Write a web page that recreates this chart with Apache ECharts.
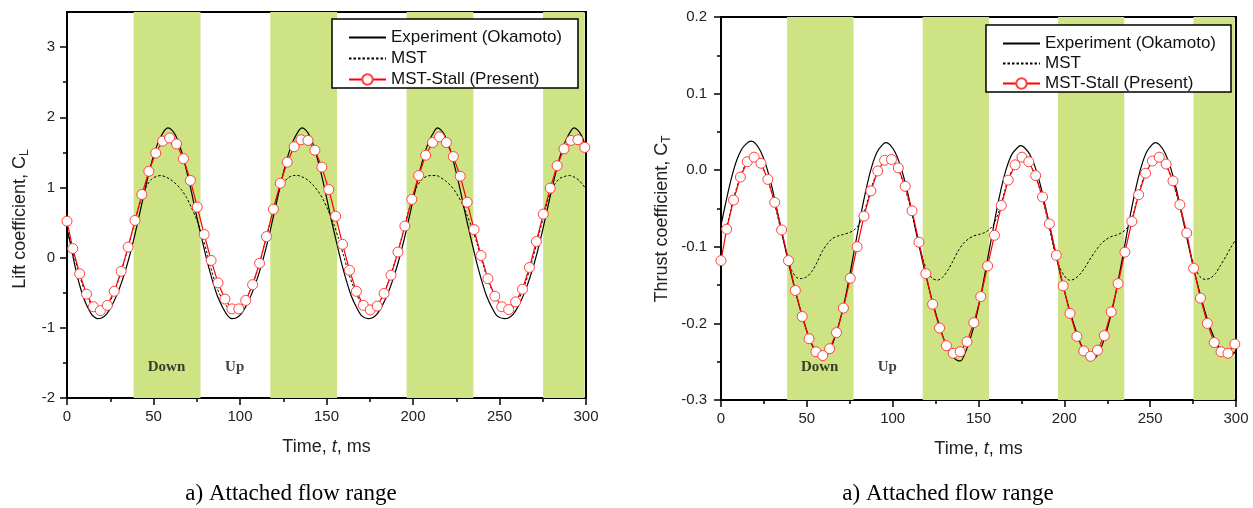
<!DOCTYPE html>
<html lang="en">
<head>
<meta charset="UTF-8">
<title>Lift and thrust coefficient</title>
<script src="https://cdn.jsdelivr.net/npm/echarts@6/dist/echarts.min.js"></script>
<style>
    html, body { margin: 0; padding: 0; background: #fff; }
    #chart_wrap { width: 1253px; height: 508px; }
</style>
</head>
<body>
<div id="chart_wrap"></div>
<script>
// ---- data ----
var seriesNames = ["Experiment (Okamoto)", "MST", "MST-Stall (Present)"];

// down-stroke phases (green bands), ms
var bandStart = [38.5, 117.5, 196.3, 275.2];
var bandEnd = [77.2, 156.1, 234.9, 299.2];

// axis ticks
var timeTicks = [0, 50, 100, 150, 200, 250, 300];
var liftTicks = [-2, -1, 0, 1, 2, 3];
var liftMinorTicks = [-1.5, -0.5, 0.5, 1.5, 2.5];
var thrustTicks = [-0.3, -0.2, -0.1, 0.0, 0.1, 0.2];

// MST-Stall markers (same time stations in both panels)
var tPresent = [0, 3.3, 7.3, 11.3, 15.3, 19.3, 23.3, 27.3, 31.3, 35.3, 39.3, 43.3, 47.3, 51.3, 55.3, 59.3,
    63.3, 67.3, 71.3, 75.3, 79.3, 83.3, 87.3, 91.3, 95.3, 99.3, 103.3, 107.3, 111.3, 115.3, 119.3, 123.3,
    127.3, 131.3, 135.3, 139.3, 143.3, 147.3, 151.3, 155.3, 159.3, 163.3, 167.3, 171.3, 175.3, 179.3,
    183.3, 187.3, 191.3, 195.3, 199.3, 203.3, 207.3, 211.3, 215.3, 219.3, 223.3, 227.3, 231.3, 235.3,
    239.3, 243.3, 247.3, 251.3, 255.3, 259.3, 263.3, 267.3, 271.3, 275.3, 279.3, 283.3, 287.3, 291.3,
    295.3, 299.3];
var liftPresent = [0.52, 0.13, -0.23, -0.52, -0.70, -0.755, -0.68, -0.48, -0.195, 0.15,
    0.53, 0.90, 1.23, 1.49, 1.66, 1.705, 1.62, 1.41, 1.10, 0.72,
    0.33, -0.04, -0.36, -0.59, -0.73, -0.73, -0.61, -0.385, -0.08, 0.30,
    0.69, 1.06, 1.36, 1.58, 1.68, 1.67, 1.53, 1.29, 0.97, 0.59,
    0.19, -0.18, -0.48, -0.68, -0.745, -0.69, -0.51, -0.25, 0.08, 0.45,
    0.83, 1.17, 1.46, 1.64, 1.72, 1.64, 1.44, 1.16, 0.79, 0.40,
    0.03, -0.30, -0.55, -0.70, -0.74, -0.63, -0.45, -0.14, 0.23, 0.62,
    0.99, 1.31, 1.55, 1.67, 1.68, 1.57];
var thrustPresent = [-0.118, -0.077, -0.039, -0.009, 0.011, 0.017, 0.009, -0.012, -0.042, -0.078,
    -0.118, -0.157, -0.191, -0.220, -0.237, -0.242, -0.233, -0.212, -0.180, -0.141,
    -0.100, -0.060, -0.027, -0.001, 0.013, 0.014, 0.003, -0.021, -0.053, -0.094,
    -0.135, -0.175, -0.206, -0.229, -0.239, -0.237, -0.224, -0.199, -0.165, -0.125,
    -0.085, -0.046, -0.013, 0.007, 0.017, 0.011, -0.007, -0.035, -0.070, -0.111,
    -0.151, -0.187, -0.217, -0.236, -0.243, -0.235, -0.216, -0.185, -0.148, -0.107,
    -0.067, -0.032, -0.004, 0.012, 0.017, 0.008, -0.014, -0.045, -0.082, -0.128,
    -0.167, -0.200, -0.225, -0.237, -0.239, -0.227];

// Experiment, lift
var tLiftExp = [0, 2, 4, 6, 8, 10, 12, 14, 16, 17.7, 20, 23, 26, 29, 32, 35, 38, 41, 44, 47,
    50, 53, 56, 58.4, 60.5, 63, 66, 69, 72, 75, 78, 81, 84, 87, 90, 93, 95.4,
    97.7, 100.7, 103.7, 106.7, 109.7, 112.7, 115.7, 118.7, 121.7, 124.7, 127.7, 130.7, 133.7, 135.8,
    137.9, 140.4, 143.4, 146.4, 149.4, 152.4, 155.4, 158.4, 161.4, 164.4, 167.4, 170.4, 174,
    176.3, 179.3, 182.3, 185.3, 188.3, 191.3, 194.3, 197.3, 200.3, 203.3, 206.3, 209.3, 212.3, 214,
    216.1, 218.6, 221.6, 224.6, 227.6, 230.6, 233.6, 236.6, 239.6, 242.6, 245.6, 248.6, 252.8,
    255.1, 258.1, 261.1, 264.1, 267.1, 270.1, 273.1, 276.1, 279.1, 282.1, 285.1, 288.1, 291.1, 293,
    295.1, 297.6, 300];
var liftExp = [0.40, 0.20, -0.05, -0.27, -0.45, -0.60, -0.71, -0.80, -0.85, -0.87, -0.86, -0.80, -0.68, -0.52, -0.32, -0.08, 0.20, 0.52, 0.85, 1.17,
    1.45, 1.66, 1.80, 1.85, 1.82, 1.73, 1.53, 1.25, 0.93, 0.58, 0.26, -0.05, -0.32, -0.55, -0.71, -0.83, -0.87,
    -0.86, -0.80, -0.68, -0.52, -0.32, -0.08, 0.20, 0.52, 0.85, 1.17, 1.45, 1.66, 1.80, 1.85,
    1.82, 1.73, 1.53, 1.25, 0.93, 0.58, 0.26, -0.05, -0.32, -0.55, -0.71, -0.83, -0.87,
    -0.86, -0.80, -0.68, -0.52, -0.32, -0.08, 0.20, 0.52, 0.85, 1.17, 1.45, 1.66, 1.80, 1.85,
    1.82, 1.73, 1.53, 1.25, 0.93, 0.58, 0.26, -0.05, -0.32, -0.55, -0.71, -0.83, -0.87,
    -0.86, -0.80, -0.68, -0.52, -0.32, -0.08, 0.20, 0.52, 0.85, 1.17, 1.45, 1.66, 1.80, 1.85,
    1.82, 1.73, 1.57];

// MST, lift
var tLiftMst = [0, 3.3, 7.3, 11.3, 15.3, 19.3, 23.3, 27.3, 31.3, 35.3, 39.3, 43.3, 46, 49, 52, 54.5, 57, 60, 63, 66,
    69, 72, 75, 78, 81, 84, 87, 91, 95, 99, 103, 107, 111, 115, 119, 122, 125, 128, 131, 133.5,
    136, 139, 142, 145, 148, 151, 154, 157, 160, 163, 167, 171, 175, 179, 183, 187, 191, 195, 199, 202,
    205, 208, 211, 213.5, 216, 219, 222, 225, 228, 231, 234, 237, 240, 244, 248, 252, 256, 260, 264, 268,
    272, 276, 279, 282, 285, 288, 290.5, 293, 296, 300];
var liftMst = [0.42, 0.10, -0.26, -0.54, -0.71, -0.76, -0.69, -0.49, -0.20, 0.14, 0.52, 0.86, 1.02, 1.12, 1.16, 1.17, 1.15, 1.11, 1.05, 0.97,
    0.86, 0.71, 0.54, 0.32, 0.06, -0.22, -0.45, -0.64, -0.75, -0.74, -0.62, -0.40, -0.10, 0.27, 0.65, 0.91, 1.06, 1.14, 1.17, 1.17,
    1.15, 1.11, 1.04, 0.95, 0.83, 0.67, 0.49, 0.27, 0.02, -0.24, -0.50, -0.69, -0.76, -0.70, -0.52, -0.26, 0.06, 0.43, 0.80, 1.00,
    1.11, 1.16, 1.17, 1.17, 1.14, 1.09, 1.02, 0.92, 0.79, 0.62, 0.43, 0.20, -0.06, -0.36, -0.59, -0.72, -0.75, -0.64, -0.43, -0.12,
    0.25, 0.64, 0.90, 1.05, 1.13, 1.16, 1.17, 1.15, 1.10, 0.98];

// Experiment, thrust
var tThrustExp = [0, 3, 6, 9, 12, 15, 17.5, 20, 23, 26, 29, 32, 35, 38, 41, 44, 47, 50, 53, 56,
    59, 61, 64, 67, 70, 73, 76, 79, 82, 85, 88, 91, 94, 96,
    98.5, 101.5, 104.5, 107.5, 110.5, 113.5, 116.5, 119.5, 122.5, 125.5, 128.5, 131.5, 134.5, 137.5, 139.5,
    142.5, 145.5, 148.5, 151.5, 154.5, 157.5, 160.5, 163.5, 166.5, 169.5, 172.5, 174.5,
    177, 180, 183, 186, 189, 192, 195, 198, 201, 204, 207, 210, 213, 216, 218,
    221, 224, 227, 230, 233, 236, 239, 242, 245, 248, 251, 253,
    255.5, 258.5, 261.5, 264.5, 267.5, 270.5, 273.5, 276.5, 279.5, 282.5, 285.5, 288.5, 291.5, 294.5, 297, 300];
var thrustExp = [-0.072, -0.040, -0.011, 0.012, 0.027, 0.035, 0.038, 0.035, 0.025, 0.008, -0.016, -0.045, -0.077, -0.108, -0.137, -0.164, -0.188, -0.210, -0.228, -0.240,
    -0.245, -0.244, -0.232, -0.214, -0.190, -0.160, -0.125, -0.088, -0.052, -0.020, 0.006, 0.024, 0.033, 0.036,
    0.033, 0.023, 0.006, -0.018, -0.047, -0.079, -0.110, -0.139, -0.166, -0.190, -0.212, -0.230, -0.242, -0.248, -0.249,
    -0.237, -0.218, -0.193, -0.162, -0.126, -0.089, -0.053, -0.021, 0.004, 0.021, 0.029, 0.032,
    0.029, 0.020, 0.004, -0.019, -0.048, -0.079, -0.110, -0.139, -0.166, -0.190, -0.211, -0.229, -0.240, -0.246, -0.245,
    -0.234, -0.215, -0.190, -0.160, -0.125, -0.088, -0.052, -0.020, 0.006, 0.024, 0.033, 0.036,
    0.033, 0.023, 0.006, -0.018, -0.047, -0.079, -0.110, -0.139, -0.165, -0.189, -0.209, -0.225, -0.236, -0.241, -0.241, -0.236];

// MST, thrust
var tThrustMst = [0, 3.3, 7.3, 11.3, 15.3, 19.3, 23.3, 27.3, 31.3, 35.3, 38.5, 41, 44, 47, 50, 53, 56, 59, 62, 65,
    68, 71, 74, 77, 80, 83, 87, 91, 95, 99, 103, 107, 111, 115, 117.5, 120, 123, 126, 129, 132,
    135, 138, 141, 144, 147, 150, 153, 156, 159, 162, 167, 171, 175, 179, 183, 187, 191, 194, 197, 200,
    203, 206, 209, 212, 215, 218, 221, 224, 227, 230, 233, 236, 239, 243, 247, 251, 255, 259, 263, 267,
    271, 273.5, 276, 279, 282, 285, 288, 291, 294, 297, 300];
var thrustMst = [-0.080, -0.072, -0.037, -0.008, 0.011, 0.016, 0.008, -0.013, -0.045, -0.082,
    -0.110, -0.130, -0.140, -0.1415, -0.139, -0.132, -0.120, -0.106, -0.096, -0.089,
    -0.086, -0.084, -0.082, -0.079, -0.072, -0.058, -0.027, -0.002, 0.012, 0.013,
    0.002, -0.022, -0.055, -0.095, -0.115, -0.131, -0.141, -0.1435, -0.140, -0.131,
    -0.119, -0.106, -0.096, -0.090, -0.086, -0.084, -0.082, -0.078, -0.070, -0.053,
    -0.014, 0.006, 0.016, 0.010, -0.007, -0.035, -0.072, -0.103, -0.125, -0.138,
    -0.1435, -0.142, -0.136, -0.127, -0.116, -0.106, -0.097, -0.091, -0.087, -0.085,
    -0.082, -0.077, -0.066, -0.033, -0.005, 0.011, 0.016, 0.007, -0.014, -0.046,
    -0.083, -0.108, -0.127, -0.139, -0.1425, -0.141, -0.135, -0.124, -0.113, -0.101, -0.090];

// phase labels
var phaseNames = ["Down", "Up"];
var phaseTime = [57.5, 96.9];
var liftPhaseY = -1.557;
var thrustPhaseY = -0.257;

// ---- chart ----
var SANS = "'Liberation Sans', Arial, sans-serif";
var SERIF = "'Liberation Serif', 'Times New Roman', serif";

function pairs(xs, ys) {
    var out = [];
    for (var i = 0; i < xs.length; i++) {
        out.push([xs[i], ys[i]]);
    }
    return out;
}

function bandData() {
    var out = [];
    for (var i = 0; i < bandStart.length; i++) {
        out.push([{ xAxis: bandStart[i] }, { xAxis: bandEnd[i] }]);
    }
    return out;
}

function phaseData(y) {
    var out = [];
    for (var i = 0; i < phaseNames.length; i++) {
        out.push({ name: phaseNames[i], value: [phaseTime[i], y] });
    }
    return out;
}

function makeSeries(xIdx, yIdx, tExp, vExp, tMst, vMst, vPresent, phaseY) {
    return [
        {
            name: seriesNames[1], type: 'line', xAxisIndex: xIdx, yAxisIndex: yIdx,
            data: pairs(tMst, vMst), symbol: 'none', smooth: 0.3, z: 3,
            lineStyle: { color: '#000', width: 1, type: [2.5, 2] },
            markArea: {
                silent: true,
                itemStyle: { color: '#cee384' },
                data: bandData()
            }
        },
        {
            name: seriesNames[0], type: 'line', xAxisIndex: xIdx, yAxisIndex: yIdx,
            data: pairs(tExp, vExp), symbol: 'none', smooth: 0.3, z: 4,
            lineStyle: { color: '#000', width: 1.2 }
        },
        {
            name: seriesNames[2], type: 'line', xAxisIndex: xIdx, yAxisIndex: yIdx,
            data: pairs(tPresent, vPresent), symbol: 'circle', symbolSize: 10, z: 5,
            lineStyle: { color: '#ff0000', width: 1.2 },
            itemStyle: { color: '#fff', borderColor: '#ff4040', borderWidth: 1 }
        },
        {
            name: 'phase', type: 'scatter', xAxisIndex: xIdx, yAxisIndex: yIdx,
            data: phaseData(phaseY), symbolSize: 0, silent: true, z: 6,
            label: {
                show: true, position: 'inside', formatter: '{b}',
                fontFamily: SERIF, fontWeight: 'bold', fontSize: 15, color: '#111'
            }
        }
    ];
}

function timeAxis(gridIdx) {
    return {
        gridIndex: gridIdx, type: 'value', position: 'bottom', min: 0, max: 300, interval: 50,
        axisLine: { onZero: false, lineStyle: { color: '#000', width: 2 } },
        axisTick: { length: 7, lineStyle: { color: '#000', width: 1.5 } },
        minorTick: { show: true, splitNumber: 2, length: 4, lineStyle: { color: '#000', width: 1.5 } },
        splitLine: { show: false },
        axisLabel: { margin: 11, fontFamily: SANS, fontSize: 15, color: '#222' },
        name: '{a|Time, }{i|t}{a|, ms}',
        nameLocation: 'middle', nameGap: 40,
        nameTextStyle: {
            fontFamily: SANS, fontSize: 18, color: '#222',
            rich: {
                a: { fontFamily: SANS, fontSize: 18, color: '#222' },
                i: { fontFamily: SANS, fontSize: 18, color: '#222', fontStyle: 'italic' }
            }
        }
    };
}

function legendFor(left, top, gap, pad) {
    return {
        orient: 'vertical', left: left, top: top,
        selectedMode: false,
        data: [
            { name: seriesNames[0], itemStyle: { opacity: 0 } },
            { name: seriesNames[1], itemStyle: { opacity: 0 } },
            { name: seriesNames[2] }
        ],
        itemWidth: 37, itemHeight: 13, itemGap: gap,
        padding: pad,
        backgroundColor: '#fff', borderColor: '#000', borderWidth: 1.5, borderRadius: 0,
        textStyle: { fontFamily: SANS, fontSize: 17, color: '#111' }
    };
}

var chart = echarts.init(document.getElementById('chart_wrap'));

var option = {
    animation: false,
    backgroundColor: '#fff',
    grid: [
        { left: 67, top: 12, width: 519, height: 386, show: true, borderColor: '#000', borderWidth: 2 },
        { left: 721, top: 17, width: 515, height: 383, show: true, borderColor: '#000', borderWidth: 2 }
    ],
    legend: [
        legendFor(332, 19, 4, [10, 16, 0, 16]),
        legendFor(986, 25, 3, [10, 15, 0, 16])
    ],
    xAxis: [timeAxis(0), timeAxis(1)],
    yAxis: [
        {
            gridIndex: 0, type: 'value', position: 'left', min: -2, max: 3.5, interval: 1,
            axisLine: { onZero: false, lineStyle: { color: '#000', width: 2 } },
            axisTick: { length: 7, customValues: liftTicks, lineStyle: { color: '#000', width: 1.5 } },
            splitLine: { show: false },
            axisLabel: { margin: 12, customValues: liftTicks, fontFamily: SANS, fontSize: 15, color: '#222' },
            name: '{a|Lift coefficient, C}{s|L}',
            nameLocation: 'middle', nameGap: 36, nameRotate: 90,
            nameTextStyle: {
                fontFamily: SANS, fontSize: 18, color: '#222', padding: [0, 28, 0, 0],
                rich: {
                    a: { fontFamily: SANS, fontSize: 18, color: '#222' },
                    s: { fontFamily: SANS, fontSize: 12, color: '#222', padding: [9, 0, 0, 0] }
                }
            }
        },
        {
            gridIndex: 0, type: 'value', position: 'left', offset: 0, min: -2, max: 3.5,
            axisLine: { show: false, onZero: false },
            axisTick: { length: 4, customValues: liftMinorTicks, lineStyle: { color: '#000', width: 1.5 } },
            splitLine: { show: false },
            axisLabel: { show: false }
        },
        {
            gridIndex: 1, type: 'value', position: 'left', min: -0.3, max: 0.2, interval: 0.1,
            axisLine: { onZero: false, lineStyle: { color: '#000', width: 2 } },
            axisTick: { length: 7, lineStyle: { color: '#000', width: 1.5 } },
            minorTick: { show: true, splitNumber: 2, length: 4, lineStyle: { color: '#000', width: 1.5 } },
            splitLine: { show: false },
            axisLabel: {
                margin: 14, fontFamily: SANS, fontSize: 15, color: '#222',
                formatter: function (v) { return (Math.abs(v) < 1e-9 ? 0 : v).toFixed(1); }
            },
            name: '{a|Thrust coefficient, C}{s|T}',
            nameLocation: 'middle', nameGap: 48, nameRotate: 90,
            nameTextStyle: {
                fontFamily: SANS, fontSize: 18, color: '#222', padding: [0, 21, 0, 0],
                rich: {
                    a: { fontFamily: SANS, fontSize: 18, color: '#222' },
                    s: { fontFamily: SANS, fontSize: 12, color: '#222', padding: [9, 0, 0, 0] }
                }
            }
        }
    ],
    series: makeSeries(0, 0, tLiftExp, liftExp, tLiftMst, liftMst, liftPresent, liftPhaseY)
        .concat(makeSeries(1, 2, tThrustExp, thrustExp, tThrustMst, thrustMst, thrustPresent, thrustPhaseY)),
    graphic: [
        {
            type: 'text', x: 291, y: 494,
            style: { text: 'a) Attached flow range', font: '23px ' + SERIF, fill: '#000', align: 'center', verticalAlign: 'middle' }
        },
        {
            type: 'text', x: 948, y: 494,
            style: { text: 'a) Attached flow range', font: '23px ' + SERIF, fill: '#000', align: 'center', verticalAlign: 'middle' }
        }
    ]
};

chart.setOption(option);
</script>
</body>
</html>
